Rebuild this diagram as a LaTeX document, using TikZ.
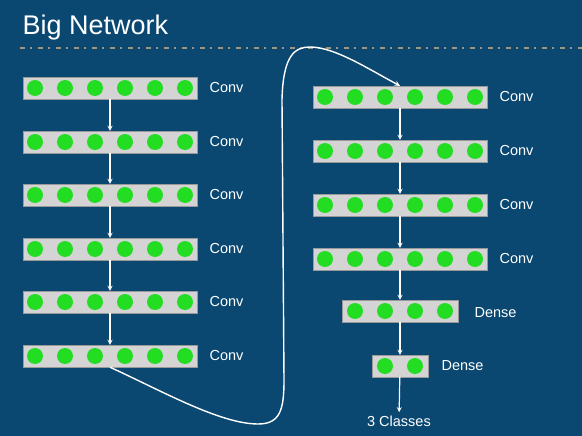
\documentclass[tikz,border=0pt]{standalone}
\usepackage{fontspec}
\setmainfont{Liberation Sans}
\definecolor{bg}{RGB}{10,72,114}
\definecolor{neuron}{RGB}{34,221,34}
\definecolor{layerbg}{RGB}{212,212,212}
\definecolor{rulecol}{RGB}{160,150,128}
\begin{document}
\begin{tikzpicture}[>=stealth,x=1pt,y=-1pt,
	layer/.style={draw=gray!80,fill=layerbg,minimum height=22pt,inner sep=0pt},
	unit/.style={circle,fill=neuron,minimum size=16pt,inner sep=0pt},
	lbl/.style={text=white,anchor=west,font=\fontsize{14.5}{15}\selectfont},
	flow/.style={->,white,line width=1.2pt}]
	\fill[bg] (0,0) rectangle (582,436);
	\useasboundingbox (0,0) rectangle (582,436);
	\node[anchor=west,text=white,font=\fontsize{27}{30}\selectfont] (title) at (19,28) {Big Network};
	\draw[rulecol,line width=1.2pt,dash pattern=on 5pt off 5pt on 1.5pt off 6.5pt] (20,48) -- (582,48);
	% left column
	\foreach \i/\y in {1/88,2/142,3/195,4/249,5/302,6/356}{
		\node[layer,minimum width=174pt] (L\i) at (110,\y) {};
		\foreach \j in {1,...,6} \node[unit] (L\i u\j) at ({110+(\j-3.5)*30},\y) {};
		\node[lbl] (L\i t) at (206,\y) {Conv};
	}
	\foreach \i [evaluate=\i as \n using int(\i+1)] in {1,...,5}
		\draw[flow] (L\i) -- (L\n);
	% right column
	\foreach \i/\y in {1/97,2/151,3/205,4/259}{
		\node[layer,minimum width=174pt] (R\i) at (400,\y) {};
		\foreach \j in {1,...,6} \node[unit] (R\i u\j) at ({400+(\j-3.5)*30},\y) {};
		\node[lbl] (R\i t) at (496,\y) {Conv};
	}
	\foreach \i [evaluate=\i as \n using int(\i+1)] in {1,...,3}
		\draw[flow] (R\i) -- (R\n);
	% dense layers
	\node[layer,minimum width=116pt] (D1) at (400,311) {};
	\foreach \j in {1,...,4} \node[unit] (D1 u\j) at ({400+(\j-2.5)*30},311) {};
	\node[lbl] (D1 t) at (471,313) {Dense};
	\node[layer,minimum width=56pt] (D2) at (400,366) {};
	\foreach \j in {1,2} \node[unit] (D2 u\j) at ({400+(\j-1.5)*30},366) {};
	\node[lbl] (D2 t) at (438,366) {Dense};
	\node[text=white,font=\fontsize{14.5}{15}\selectfont] (out) at (399,421) {3 Classes};
	\draw[flow] (R4) -- (D1);
	\draw[flow] (D1) -- (D2);
	\draw[flow] (D2) -- (out);
	% jump to the second column
	\draw[flow,line width=1.4pt] (L6.south) .. controls (160,390) and (220,424) .. (258,424)
		.. controls (280,424) and (284,410) .. (284,380) -- (282,100)
		.. controls (283,55) and (295,47) .. (310,47)
		.. controls (335,47) and (370,70) .. (R1.north);
\end{tikzpicture}
\end{document}
